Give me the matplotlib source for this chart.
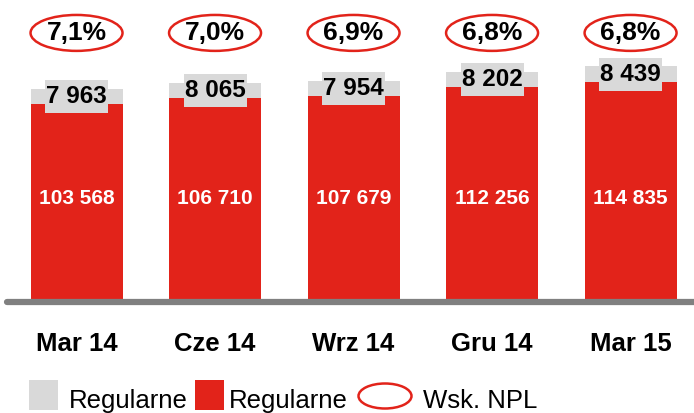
import matplotlib.pyplot as plt
from matplotlib.patches import Ellipse, Rectangle
from matplotlib.transforms import blended_transform_factory

plt.rcParams['font.family'] = ['Liberation Sans', 'DejaVu Sans']

# kwartały i wartości (mln zł)
quarters = ["Mar 14", "Cze 14", "Wrz 14", "Gru 14", "Mar 15"]
regular = [103568, 106710, 107679, 112256, 114835]
npl = [7963, 8065, 7954, 8202, 8439]
npl_ratio = ["7,1%", "7,0%", "6,9%", "6,8%", "6,8%"]

RED = "#e2231a"
GREY = "#d9d9d9"

def fmt(v):
    return "{:,}".format(v).replace(",", " ")

fig = plt.figure(figsize=(6.94, 4.13), dpi=100)
ax = fig.add_axes([7 / 694, 1 - 302 / 413, 687 / 694, 302 / 413])
ax.set_xlim(-0.502, 4.458)
ax.set_ylim(0, 157950)
ax.axis("off")

x = list(range(len(quarters)))
w = 0.664
ax.bar(x, regular, width=w, color=RED, zorder=2)
ax.bar(x, npl, width=w, bottom=regular, color=GREY, zorder=2)

# linia bazowa
ax.plot([-0.502, 4.458], [0, 0], color="#808080", lw=4.5,
        solid_capstyle="round", zorder=3, clip_on=False)

tr = blended_transform_factory(ax.transData, ax.transAxes)
box_w, box_h = 0.455, 17300
for i in x:
    ax.text(i, 0.3245, fmt(regular[i]), transform=tr, ha="center", va="baseline",
            color="white", fontsize=15, fontweight="bold", zorder=4)
    yc = regular[i] + npl[i] / 2
    ax.add_patch(Rectangle((i - box_w / 2, yc - box_h / 2), box_w, box_h,
                           fc=GREY, ec="none", zorder=3))
    ax.text(i, yc - 3400, fmt(npl[i]), ha="center", va="baseline",
            color="black", fontsize=17.5, fontweight="bold", zorder=4)
    ax.add_patch(Ellipse((i, 0.891), 0.664, 0.119, transform=tr,
                         fill=False, ec=RED, lw=1.8, zorder=4, clip_on=False))
    ax.text(i, 0.8675, npl_ratio[i], transform=tr, ha="center", va="baseline",
            color="black", fontsize=19, fontweight="bold", zorder=5)
    ax.text(i, -0.161, quarters[i], transform=tr, ha="center", va="baseline",
            color="black", fontsize=18.5, fontweight="bold")

# legenda
fw, fh = 694, 413
base = 1 - 408 / fh
fig.patches.append(Rectangle((29 / fw, 1 - 410 / fh), 29 / fw, 30 / fh,
                             transform=fig.transFigure, fc=GREY, ec="none"))
fig.text(69 / fw, base, "Regularne", fontsize=18.5, va="baseline")
fig.patches.append(Rectangle((195 / fw, 1 - 410 / fh), 29 / fw, 30 / fh,
                             transform=fig.transFigure, fc=RED, ec="none"))
fig.text(229 / fw, base, "Regularne", fontsize=18.5, va="baseline")
fig.patches.append(Ellipse((385 / fw, 1 - 396 / fh), 53 / fw, 25 / fh,
                           transform=fig.transFigure, fill=False, ec=RED, lw=1.8))
fig.text(423 / fw, base, "Wsk. NPL", fontsize=18.5, va="baseline")

fig.savefig("out.png", dpi=100)
